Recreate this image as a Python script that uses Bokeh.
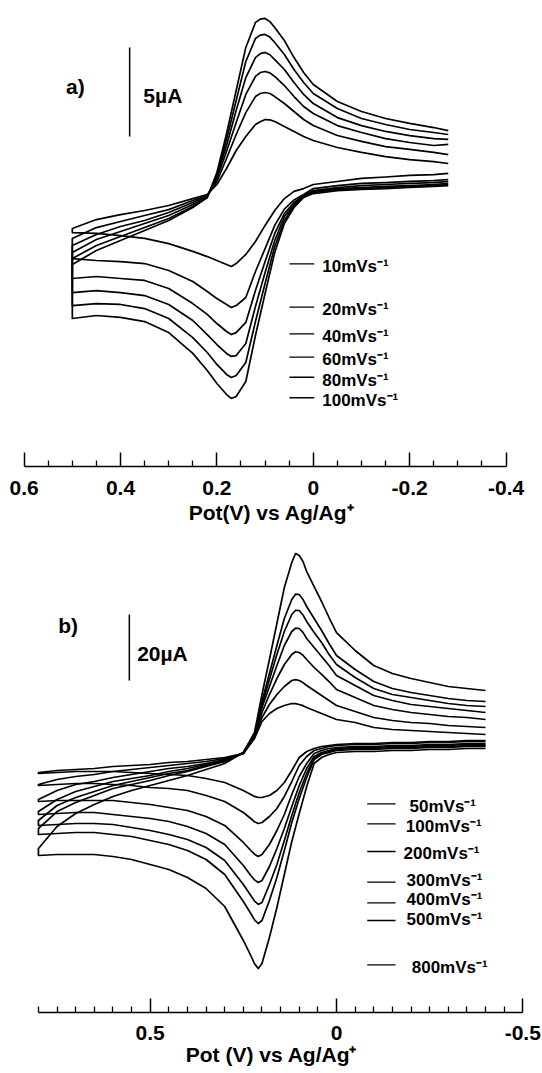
from bokeh.plotting import figure
from bokeh.models import Range1d, FixedTicker, CustomJSTickFormatter
from bokeh.layouts import column
from bokeh.core.properties import value
from bokeh.embed import file_html
from bokeh.resources import INLINE

FONT = "Liberation Sans"

# ---------------- Panel a data (potential in V vs Ag/Ag+, current in uA) ----------------
a_rates = ["10mVs⁻¹", "20mVs⁻¹", "40mVs⁻¹", "60mVs⁻¹", "80mVs⁻¹", "100mVs⁻¹"]
a_v_fwd = [0.50, 0.45, 0.40, 0.35, 0.30, 0.25, 0.22, 0.20, 0.18, 0.16, 0.14, 0.12, 0.11,
           0.10, 0.09, 0.08, 0.06, 0.04, 0.02, 0.00, -0.05, -0.10, -0.15, -0.20, -0.25, -0.28]
a_v_rev = [-0.28, -0.25, -0.20, -0.15, -0.10, -0.05, 0.00, 0.02, 0.04, 0.06, 0.08, 0.10,
           0.12, 0.14, 0.16, 0.17, 0.18, 0.20, 0.22, 0.25, 0.30, 0.35, 0.40, 0.45, 0.50]

a_fwd_10 = [-2.02, -1.52, -1.24, -1.01, -0.73, -0.34, -0.11, 0.45, 1.35, 2.36, 3.15, 3.82, 3.98,
            4.10, 4.08, 3.99, 3.71, 3.43, 3.15, 2.92, 2.53, 2.25, 2.02, 1.85, 1.74, 1.63]
a_fwd_20 = [-2.58, -1.97, -1.63, -1.29, -0.96, -0.45, -0.17, 0.62, 1.91, 3.26, 4.49, 5.39, 5.56,
            5.62, 5.56, 5.39, 5.00, 4.55, 4.10, 3.76, 3.20, 2.87, 2.58, 2.42, 2.25, 2.13]
a_fwd_40 = [-2.98, -2.36, -1.91, -1.57, -1.12, -0.56, -0.17, 0.79, 2.30, 3.93, 5.51, 6.52, 6.74,
            6.80, 6.72, 6.52, 6.01, 5.39, 4.83, 4.44, 3.76, 3.37, 3.03, 2.81, 2.64, 2.70]
a_fwd_60 = [-3.37, -2.64, -2.19, -1.74, -1.29, -0.67, -0.22, 0.90, 2.64, 4.61, 6.46, 7.58, 7.80,
            7.87, 7.74, 7.47, 6.91, 6.18, 5.51, 5.00, 4.21, 3.76, 3.43, 3.20, 3.03, 2.98]
a_fwd_80 = [-3.71, -2.98, -2.47, -1.97, -1.46, -0.79, -0.28, 1.01, 2.98, 5.17, 7.36, 8.65, 8.84,
            8.88, 8.73, 8.43, 7.75, 6.91, 6.18, 5.56, 4.72, 4.16, 3.82, 3.54, 3.37, 3.26]
a_fwd_100 = [-4.04, -3.26, -2.70, -2.13, -1.57, -0.84, -0.28, 1.12, 3.31, 5.73, 8.15, 9.55, 9.74,
             9.78, 9.60, 9.27, 8.54, 7.58, 6.74, 6.07, 5.11, 4.55, 4.16, 3.88, 3.65, 3.48]

a_rev_10 = [1.07, 1.01, 0.96, 0.87, 0.79, 0.62, 0.45, 0.22, 0.06, -0.34, -1.01, -1.85,
            -2.75, -3.48, -3.99, -4.16, -4.04, -3.82, -3.60, -3.31, -2.87, -2.58, -2.42, -2.30, -2.25]
a_rev_20 = [0.73, 0.67, 0.62, 0.56, 0.51, 0.39, 0.22, -0.11, -0.42, -0.93, -1.85, -3.15,
            -4.44, -5.90, -6.35, -6.46, -6.29, -5.96, -5.56, -5.00, -4.38, -3.99, -3.88, -3.82, -3.71]
a_rev_40 = [0.62, 0.56, 0.51, 0.45, 0.39, 0.28, 0.11, -0.17, -0.56, -1.18, -2.30, -3.88,
            -5.51, -7.30, -7.87, -7.98, -7.81, -7.36, -6.85, -6.24, -5.39, -4.94, -4.83, -4.72, -4.83]
a_rev_60 = [0.51, 0.45, 0.39, 0.34, 0.28, 0.22, 0.06, -0.22, -0.67, -1.35, -2.70, -4.49,
            -6.40, -8.48, -9.16, -9.21, -9.04, -8.54, -7.98, -7.19, -6.29, -5.79, -5.62, -5.51, -5.62]
a_rev_80 = [0.45, 0.39, 0.34, 0.28, 0.22, 0.17, 0.00, -0.22, -0.73, -1.57, -3.03, -5.11,
            -7.25, -9.55, -10.28, -10.39, -10.22, -9.66, -8.99, -8.15, -7.08, -6.52, -6.29, -6.24, -6.35]
a_rev_100 = [0.39, 0.34, 0.28, 0.22, 0.17, 0.11, -0.06, -0.28, -0.84, -1.74, -3.37, -5.67,
             -8.03, -10.62, -11.46, -11.57, -11.35, -10.73, -10.00, -9.04, -7.87, -7.25, -7.02, -6.91, -7.08]

a_ticks = [0.6, 0.4, 0.2, 0.0, -0.2, -0.4]
a_minor = [0.55, 0.5, 0.45, 0.35, 0.3, 0.25, 0.15, 0.1, 0.05, -0.05, -0.1, -0.15,
           -0.25, -0.3, -0.35]

# ---------------- Panel b data ----------------
b_rates = ["50mVs⁻¹", "100mVs⁻¹", "200mVs⁻¹", "300mVs⁻¹", "400mVs⁻¹", "500mVs⁻¹", "800mVs⁻¹"]
b_v_fwd = [0.80, 0.75, 0.70, 0.65, 0.60, 0.55, 0.50, 0.45, 0.40, 0.35, 0.30, 0.25,
           0.22, 0.20, 0.18, 0.16, 0.14, 0.12, 0.11, 0.10, 0.09, 0.08, 0.06, 0.04, 0.02, 0.00,
           -0.05, -0.10, -0.15, -0.20, -0.25, -0.30, -0.35, -0.40]
b_v_rev = [-0.40, -0.35, -0.30, -0.25, -0.20, -0.15, -0.10, -0.05,
           0.00, 0.02, 0.04, 0.06, 0.08, 0.10, 0.12, 0.14, 0.16, 0.18, 0.20,
           0.21, 0.22, 0.23, 0.25,
           0.30, 0.35, 0.40, 0.45, 0.50, 0.55, 0.60, 0.65, 0.70, 0.75, 0.80]

b_fwd_50 = [-5.15, -4.55, -4.24, -3.94, -3.33, -3.03, -2.73, -2.12, -1.82, -1.21, -0.61, 0.61,
            5.15, 10.30, 12.73, 14.24, 15.15, 15.76, 15.70, 15.45, 15.10, 14.55, 13.64, 12.73, 11.82, 10.91,
            10.00, 8.48, 7.88, 7.58, 7.27, 6.97, 6.67, 6.36]
b_fwd_100 = [-8.79, -7.27, -6.36, -5.76, -4.85, -4.24, -3.64, -3.03, -2.42, -1.82, -0.91, 0.61,
             5.45, 11.52, 15.45, 18.48, 20.91, 22.73, 23.00, 22.73, 22.10, 21.21, 19.70, 18.18, 16.67, 15.15,
             13.33, 11.52, 10.61, 10.00, 9.70, 9.09, 8.79, 8.48]
b_fwd_200 = [-13.33, -10.61, -8.79, -7.88, -6.67, -5.76, -4.85, -3.94, -3.33, -2.42, -1.21, 0.61,
             5.76, 13.03, 18.48, 23.33, 27.58, 30.61, 31.45, 31.21, 30.40, 29.09, 26.67, 24.55, 22.42, 20.00,
             17.58, 15.15, 13.94, 13.03, 12.42, 11.82, 11.52, 10.91]
b_fwd_300 = [-16.97, -13.33, -10.91, -9.39, -7.88, -6.97, -6.06, -4.85, -3.94, -2.73, -1.52, 0.61,
             6.06, 14.55, 20.91, 27.27, 33.33, 37.58, 38.60, 38.48, 37.30, 35.45, 32.73, 30.00, 27.27, 24.24,
             21.21, 18.18, 16.67, 15.45, 14.85, 14.24, 13.64, 13.03]
b_fwd_400 = [-19.70, -15.15, -12.73, -10.91, -9.09, -7.88, -6.67, -5.45, -4.55, -3.03, -1.82, 0.91,
             6.36, 15.45, 23.03, 30.61, 37.58, 42.73, 44.00, 43.94, 42.60, 40.61, 37.27, 34.24, 30.61, 27.58,
             23.64, 20.30, 18.48, 17.58, 16.67, 15.76, 15.15, 14.85]
b_fwd_500 = [-22.12, -16.97, -14.24, -12.12, -10.00, -8.79, -7.58, -6.06, -4.85, -3.33, -1.82, 0.91,
             6.36, 16.36, 24.85, 33.33, 41.52, 47.27, 48.90, 48.79, 47.30, 45.15, 41.52, 37.88, 33.94, 30.30,
             26.06, 22.42, 20.30, 19.09, 18.18, 17.27, 16.67, 16.36]
b_fwd_800 = [-28.18, -21.52, -17.58, -14.85, -12.42, -10.61, -9.09, -7.58, -6.06, -4.24, -2.42, 0.91,
             6.97, 18.48, 29.09, 40.00, 50.91, 58.48, 61.20, 60.61, 58.80, 55.76, 51.21, 46.67, 41.82, 37.27,
             31.82, 27.27, 24.85, 23.33, 22.12, 20.91, 20.30, 19.70]

b_rev_50 = [4.55, 4.55, 4.24, 4.24, 3.94, 3.94, 3.64, 3.64,
            3.33, 3.03, 2.73, 2.12, 1.21, -0.61, -4.55, -8.18, -10.61, -12.12, -12.73,
            -12.73, -12.40, -11.82, -10.61,
            -8.18, -6.97, -6.06, -5.76, -5.45, -5.15, -4.85, -4.85, -4.85, -5.15, -5.45]
b_rev_100 = [4.24, 4.24, 3.94, 3.94, 3.64, 3.64, 3.33, 3.33,
             3.03, 2.73, 2.12, 1.52, -0.30, -3.03, -7.88, -12.42, -16.06, -18.48, -20.30,
             -20.61, -20.10, -19.09, -17.27,
             -13.94, -12.12, -10.61, -10.00, -9.70, -9.09, -8.79, -8.48, -8.48, -8.79, -9.09]
b_rev_200 = [3.64, 3.64, 3.33, 3.33, 3.03, 3.03, 2.73, 2.73,
             2.42, 2.12, 1.52, 0.61, -2.42, -6.36, -11.82, -17.88, -22.73, -26.97, -30.00,
             -30.61, -29.90, -28.79, -26.36,
             -21.21, -18.48, -16.67, -15.76, -14.85, -14.24, -13.64, -13.64, -13.64, -13.64, -13.94]
b_rev_300 = [3.33, 3.33, 3.03, 3.03, 2.73, 2.73, 2.42, 2.42,
             2.12, 1.52, 0.91, -0.30, -3.94, -9.09, -15.45, -22.12, -28.18, -33.64, -37.88,
             -38.48, -37.70, -36.36, -33.33,
             -26.97, -23.64, -21.52, -20.00, -19.09, -18.48, -17.88, -17.27, -17.27, -17.58, -17.88]
b_rev_400 = [3.03, 3.03, 2.73, 2.73, 2.42, 2.42, 2.12, 2.12,
             1.82, 1.21, 0.61, -0.91, -5.45, -11.21, -18.18, -25.76, -33.03, -39.09, -44.55,
             -45.15, -44.10, -42.42, -39.09,
             -31.82, -27.88, -25.45, -23.94, -22.73, -21.82, -20.91, -20.61, -20.61, -20.91, -21.21]
b_rev_500 = [2.73, 2.73, 2.42, 2.42, 2.12, 2.12, 1.82, 1.82,
             1.52, 0.91, 0.30, -1.21, -6.67, -13.03, -20.30, -28.79, -36.97, -43.94, -50.00,
             -50.91, -49.80, -47.88, -44.24,
             -36.06, -31.52, -28.79, -26.97, -25.76, -24.55, -23.94, -23.33, -23.33, -23.64, -23.94]
b_rev_800 = [2.12, 2.12, 1.82, 1.82, 1.52, 1.52, 1.21, 1.21,
             0.91, 0.30, -0.61, -2.42, -9.39, -17.58, -26.06, -36.06, -46.06, -55.15, -63.03,
             -64.55, -63.10, -60.61, -56.06,
             -45.76, -40.30, -36.97, -34.55, -33.03, -31.52, -30.61, -30.00, -30.00, -30.00, -30.30]

b_ticks = [0.5, 0.0, -0.5]
b_minor = [0.8, 0.75, 0.7, 0.65, 0.6, 0.55, 0.45, 0.4, 0.35, 0.3, 0.25, 0.2, 0.15, 0.1, 0.05,
           -0.05, -0.1, -0.15, -0.2, -0.25, -0.3, -0.35, -0.4, -0.45]

a_fwd = [a_fwd_10, a_fwd_20, a_fwd_40, a_fwd_60, a_fwd_80, a_fwd_100]
a_rev = [a_rev_10, a_rev_20, a_rev_40, a_rev_60, a_rev_80, a_rev_100]
b_fwd = [b_fwd_50, b_fwd_100, b_fwd_200, b_fwd_300, b_fwd_400, b_fwd_500, b_fwd_800]
b_rev = [b_rev_50, b_rev_100, b_rev_200, b_rev_300, b_rev_400, b_rev_500, b_rev_800]

# ---------------- helpers ----------------
fmt = CustomJSTickFormatter(code="return Math.abs(tick) < 1e-9 ? '0' : tick.toFixed(1);")


def make_fig(h, xr, yr, bottom):
    p = figure(width=542, height=h, output_backend="svg", toolbar_location=None,
               x_range=Range1d(*xr), y_range=Range1d(*yr), y_axis_location=None,
               min_border_left=0, min_border_right=0, min_border_top=0,
               min_border_bottom=bottom, outline_line_color=None)
    p.xgrid.visible = False
    p.ygrid.visible = False
    return p


def style_axis(p, bounds, ticks, minor, label, std1, std2):
    ax = p.xaxis[0]
    ax.bounds = bounds
    ax.ticker = FixedTicker(ticks=ticks, minor_ticks=minor)
    ax.formatter = fmt
    ax.major_tick_in = 14
    ax.major_tick_out = 0
    ax.minor_tick_in = 6
    ax.minor_tick_out = 0
    ax.axis_line_width = 1.6
    ax.major_tick_line_width = 1.5
    ax.minor_tick_line_width = 1.3
    ax.axis_line_color = "black"
    ax.major_label_text_font = FONT
    ax.major_label_text_font_size = "21px"
    ax.major_label_text_font_style = "bold"
    ax.major_label_text_color = "black"
    ax.major_label_standoff = std1
    ax.axis_label = label
    ax.axis_label_text_font = FONT
    ax.axis_label_text_font_size = "21px"
    ax.axis_label_text_font_style = "bold"
    ax.axis_label_text_color = "black"
    ax.axis_label_standoff = std2


def txt(p, x, y, s, size, align="left"):
    p.text(x=[x], y=[y], text=[s], text_font=value(FONT), text_font_size=size,
           text_font_style="bold", text_align=align, text_baseline="middle",
           text_color="black")


# ---------------- Panel a ----------------
pa = make_fig(532, (0.649, -0.4756), (-15.393, 10.787), 66)
style_axis(pa, (-0.4, 0.6), a_ticks, a_minor, "Pot(V) vs Ag/Ag⁺", 14, 3)
for fwd, rev in zip(a_fwd, a_rev):
    pa.line(a_v_rev + a_v_fwd, rev + fwd, line_color="black", line_width=1.7,
            line_join="round")

a_leg_line_y = [-4.01, -6.44, -7.94, -9.25, -10.38, -11.53]
a_leg_text_y = [-4.18, -6.60, -8.10, -9.40, -10.55, -11.70]
pa.segment(x0=[0.0495] * 6, x1=[-0.002] * 6, y0=a_leg_line_y, y1=a_leg_line_y,
           line_color="black", line_width=1.3)
pa.text(x=[-0.0186] * 6, y=a_leg_text_y, text=a_rates, text_font=value(FONT),
        text_font_size="17px", text_font_style="bold", text_align="left",
        text_baseline="middle", text_color="black")
# scale bar 5 uA
pa.segment(x0=[0.381], x1=[0.381], y0=[3.15], y1=[8.15], line_color="black", line_width=1.5)
txt(pa, 0.3526, 5.45, "5µA", "21px")
txt(pa, 0.513, 5.95, "a)", "21px")

# ---------------- Panel b ----------------
pb = make_fig(541, (0.9018, -0.5529), (-77.88, 67.58), 61)
style_axis(pb, (-0.5, 0.8), b_ticks, b_minor, "Pot (V) vs Ag/Ag⁺", 13, 0)
for fwd, rev in zip(b_fwd, b_rev):
    pb.line(b_v_rev + b_v_fwd, rev + fwd, line_color="black", line_width=1.7,
            line_join="round")

b_leg_line_y = [-14.64, -20.70, -29.09, -38.39, -44.64, -50.00, -63.42]
b_leg_text_y = [-15.45, -21.52, -29.70, -37.88, -43.64, -49.70, -64.24]
b_leg_text_x = [-0.196, -0.186, -0.180, -0.188, -0.188, -0.188, -0.202]
pb.segment(x0=[-0.0825] * 7, x1=[-0.1586] * 7, y0=b_leg_line_y, y1=b_leg_line_y,
           line_color="black", line_width=1.3)
pb.text(x=b_leg_text_x, y=b_leg_text_y, text=b_rates, text_font=value(FONT),
        text_font_size="17px", text_font_style="bold", text_align="left",
        text_baseline="middle", text_color="black")
# scale bar 20 uA
pb.segment(x0=[0.556], x1=[0.556], y0=[22.73], y1=[42.73], line_color="black", line_width=1.5)
txt(pb, 0.535, 30.9, "20µA", "21px")
txt(pb, 0.747, 39.4, "b)", "21px")

layout = column(pa, pb, spacing=0)
open("out.html", "w").write(file_html(layout, INLINE))
